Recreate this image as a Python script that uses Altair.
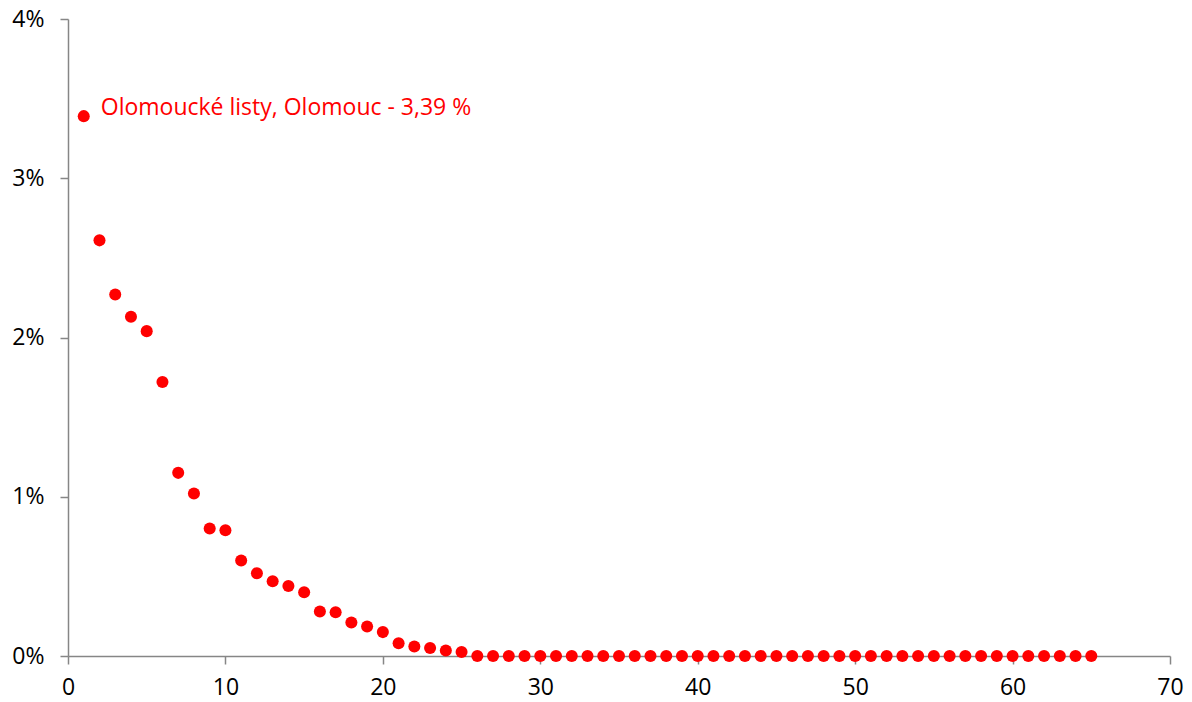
import altair as alt
import pandas as pd

ranks = list(range(1, 66))
shares = [3.39, 2.61, 2.27, 2.13, 2.04, 1.72, 1.15, 1.02, 0.80, 0.79,
          0.60, 0.52, 0.47, 0.44, 0.40, 0.28, 0.275, 0.21, 0.185, 0.15,
          0.08, 0.06, 0.05, 0.035, 0.025] + [0.0] * 40
label_text = ["Olomoucké listy, Olomouc - 3,39 %"]

df = pd.DataFrame({"rank": ranks, "share": shares})
lab = pd.DataFrame({"rank": [ranks[0]], "share": [shares[0]], "text": label_text})

FONT = "Open Sans"
AXIS_COLOR = "#868686"

x = alt.X("rank:Q", scale=alt.Scale(domain=[0, 70], nice=False, zero=True),
          axis=alt.Axis(values=list(range(0, 71, 10)), title=None, grid=False,
                        domainColor=AXIS_COLOR, domainWidth=1.5, tickColor=AXIS_COLOR,
                        tickWidth=1.5, tickSize=8, labelFontSize=23, labelFont=FONT,
                        labelColor="#000000", labelPadding=12, labelFlush=False))
y = alt.Y("share:Q", scale=alt.Scale(domain=[0, 4], nice=False),
          axis=alt.Axis(values=[0, 1, 2, 3, 4], title=None, grid=False,
                        labelExpr="datum.value + '%'",
                        domainColor=AXIS_COLOR, domainWidth=1.5, tickColor=AXIS_COLOR,
                        tickWidth=1.5, tickSize=8, labelFontSize=23, labelFont=FONT,
                        labelColor="#000000", labelPadding=16, labelFlush=False))

points = alt.Chart(df).mark_circle(size=145, color="#ff0000", opacity=1).encode(x=x, y=y)
text = alt.Chart(lab).mark_text(align="left", baseline="middle", dx=17, dy=-8,
                                fontSize=23, font=FONT, color="#ff0000").encode(
    x="rank:Q", y="share:Q", text="text:N")

chart = (points + text).properties(
    width=1102, height=637,
    autosize=alt.AutoSizeParams(type="none"),
    padding={"left": 60, "top": 11, "right": 14, "bottom": 48},
).configure_view(stroke=None)

chart.save("out.html", embed_options={"renderer": "svg", "actions": False})
